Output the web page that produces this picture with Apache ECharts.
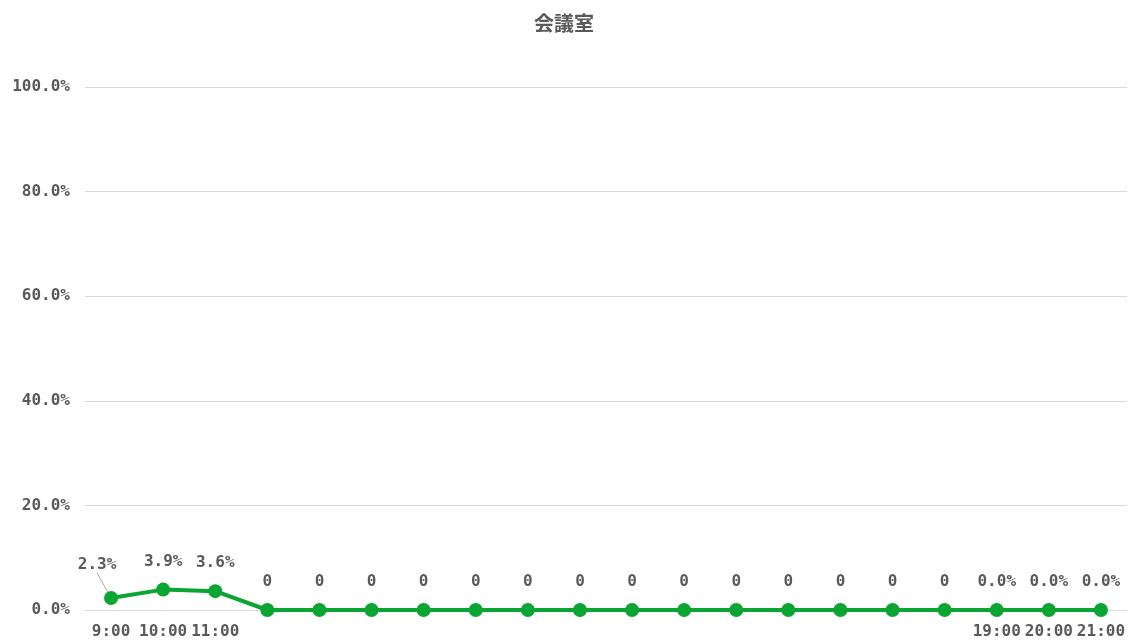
<!DOCTYPE html>
<html>
<head>
<meta charset="utf-8">
<script src="https://cdn.jsdelivr.net/npm/echarts@6/dist/echarts.min.js"></script>
<style>
  html, body { margin: 0; padding: 0; background: #fff; }
  #main { width: 1128px; height: 643px; }
</style>
</head>
<body>
<div id="main"></div>
<script>
// 時間帯（ラベルは両端のみ表示）
var categories = ['9:00', '10:00', '11:00', '', '', '', '', '', '', '', '', '', '', '', '', '', '', '19:00', '20:00', '21:00'];
// 稼働率（%）
var values = [2.3, 3.9, 3.6, 0, 0, 0, 0, 0, 0, 0, 0, 0, 0, 0, 0, 0, 0, 0.0, 0.0, 0.0];
// "0" とだけ表示される点
var plainZero = [3, 4, 5, 6, 7, 8, 9, 10, 11, 12, 13, 14, 15, 16];
var yTicks = ['0.0%', '20.0%', '40.0%', '60.0%', '80.0%', '100.0%'];

var textColor = '#595959';
var numFont = '"DejaVu Sans Mono", monospace';

var chart = echarts.init(document.getElementById('main'));
var option = {
  animation: false,
  title: {
    text: '会議室',
    left: 'center',
    top: 8,
    textStyle: {
      fontFamily: '"Noto Sans CJK JP", sans-serif',
      fontSize: 20,
      fontWeight: 'bold',
      color: textColor
    }
  },
  grid: { left: 85, right: 0, top: 87, bottom: 33 },
  xAxis: {
    type: 'category',
    data: categories,
    axisLine: { show: true, lineStyle: { color: '#d9d9d9' } },
    axisTick: { show: false },
    axisLabel: {
      interval: 0,
      margin: 14,
      color: textColor,
      fontFamily: numFont,
      fontWeight: 'bold',
      fontSize: 16
    }
  },
  yAxis: {
    type: 'value',
    min: 0,
    max: 100,
    interval: 20,
    axisLine: { show: false },
    axisTick: { show: false },
    splitLine: { lineStyle: { color: '#d9d9d9', width: 1 } },
    axisLabel: {
      margin: 15,
      color: textColor,
      fontFamily: numFont,
      fontWeight: 'bold',
      fontSize: 16,
      formatter: function (v) { return yTicks[v / 20]; }
    }
  },
  series: [{
    type: 'line',
    data: values.map(function (v, i) {
      return i === 0 ? { value: v, labelLine: { show: true } } : { value: v, labelLine: { show: false } };
    }),
    symbol: 'circle',
    symbolSize: 14,
    lineStyle: { color: '#0aa532', width: 4 },
    itemStyle: { color: '#0aa532' },
    label: {
      show: true,
      position: 'top',
      distance: 13,
      color: textColor,
      fontFamily: numFont,
      fontWeight: 'bold',
      fontSize: 16,
      formatter: function (p) {
        return plainZero.indexOf(p.dataIndex) >= 0 ? '0' : p.value.toFixed(1) + '%';
      }
    },
    labelLine: { show: false, lineStyle: { color: '#a6a6a6', width: 1 } },
    labelLayout: function (p) {
      if (p.dataIndex === 0) return { dx: -14, dy: -5 };
      return {};
    }
  }]
};
chart.setOption(option);
</script>
</body>
</html>
